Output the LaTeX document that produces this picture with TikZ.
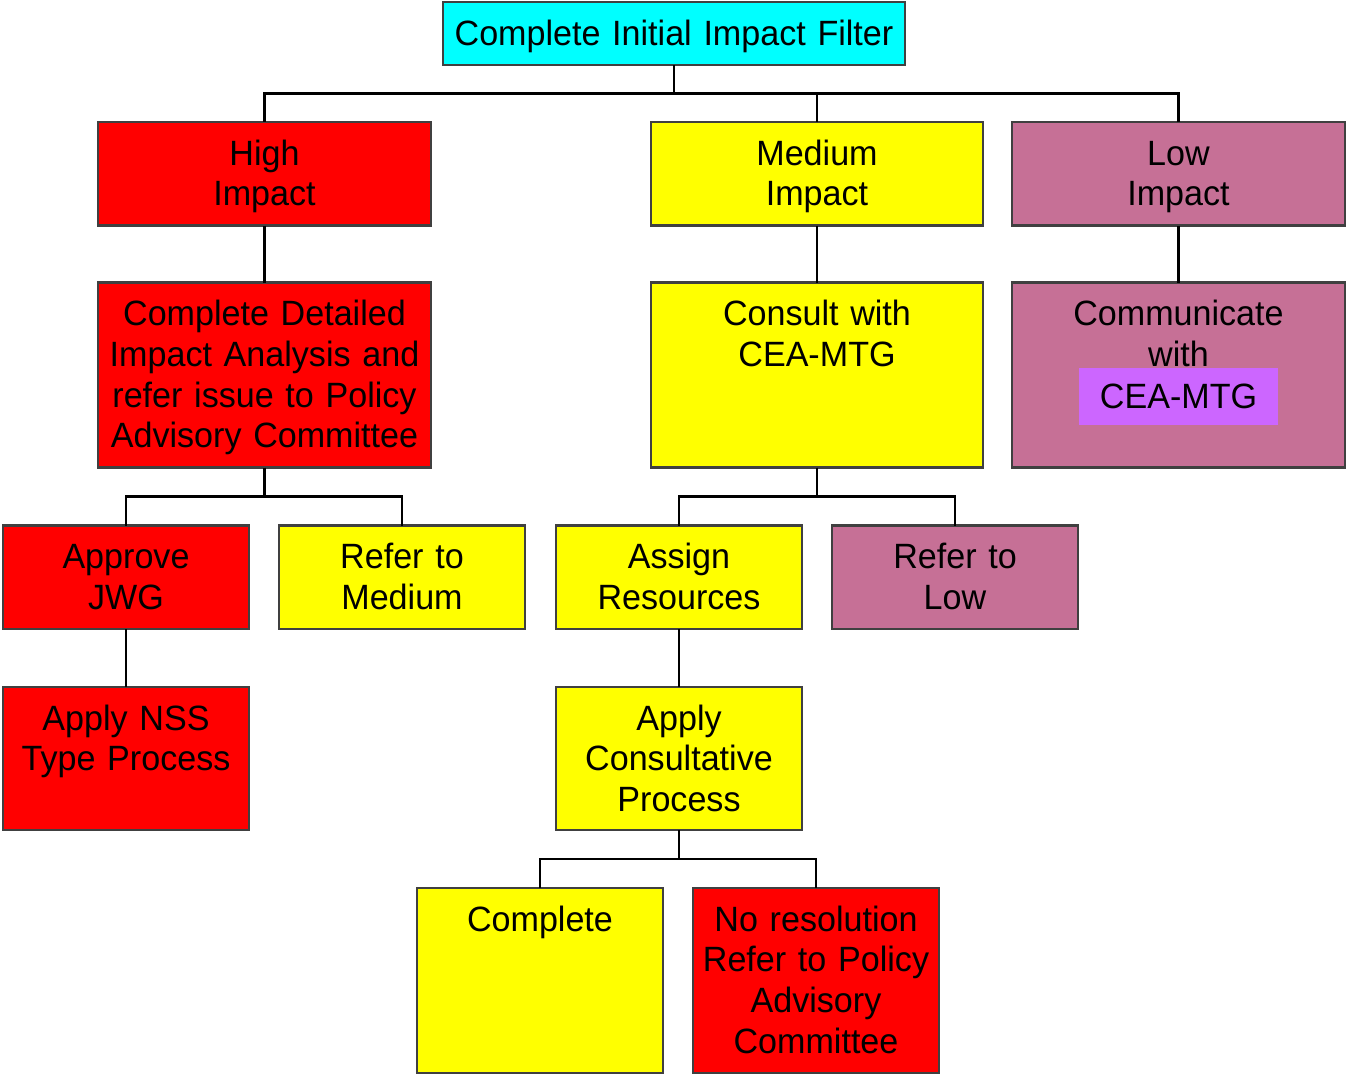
\documentclass[tikz,border=0pt]{standalone}
\usepackage{fontspec}
\setmainfont{Liberation Sans}[FakeStretch=0.97]
\usepackage{xcolor}
\usepackage{tikz}
\usetikzlibrary{positioning}
\definecolor{hired}{RGB}{255,0,0}
\definecolor{medyellow}{RGB}{255,255,0}
\definecolor{lowmauve}{RGB}{198,112,150}
\definecolor{filtercyan}{RGB}{0,255,255}
\definecolor{ceapurple}{RGB}{204,102,255}
\definecolor{edge}{RGB}{64,64,64}
\tikzset{
    box/.style={
        rectangle,
        draw=edge,
        line width=1.2pt,
        inner xsep=0pt,
        inner ysep=0pt,
        outer sep=0pt,
        align=center,
        text height=0.86cm,
        font=\fontsize{20}{23.2}\selectfont
    },
    wide/.style={text width=6.65cm},
    narrow/.style={text width=4.92cm},
    shortbox/.style={text depth=1.21cm},
    midbox/.style={text depth=2.00cm},
    tallbox/.style={text depth=2.84cm},
    redbox/.style={box, fill=hired},
    yellowbox/.style={box, fill=medyellow},
    mauvebox/.style={box, fill=lowmauve},
    ceabox/.style={
        rectangle,
        fill=ceapurple,
        minimum width=3.98cm,
        minimum height=1.14cm,
        inner sep=0pt,
        outer sep=0pt,
        font=\fontsize{20}{23.2}\selectfont
    },
    link/.style={
        draw=black,
        line width=1.2pt
    }
}
\begin{document}
\begin{tikzpicture}
\useasboundingbox (0,0) rectangle (26.92,-21.52);

% Filter (top)
\node[box, fill=filtercyan, text width=9.24cm, text depth=0.40cm, anchor=north] (filter) at (13.48,-0.04) {Complete Initial Impact Filter};

% Impact levels
\node[redbox, wide, shortbox, below=1.14cm of filter, xshift=-8.19cm] (high) {High\\Impact};
\node[yellowbox, wide, shortbox, right=4.4cm of high] (med) {Medium\\Impact};
\node[mauvebox, wide, shortbox, right=0.58cm of med] (low) {Low\\Impact};

% Actions per level
\node[redbox, wide, tallbox, below=1.14cm of high] (detail) {Complete Detailed\\Impact Analysis and\\refer issue to Policy\\Advisory Committee};
\node[yellowbox, wide, tallbox, below=1.14cm of med] (consult) {Consult with\\CEA-MTG};
\node[mauvebox, wide, tallbox, below=1.14cm of low] (comm) {Communicate\\with};
\node[ceabox, below=1.7cm of comm.north] (cea) {CEA-MTG};

% High branch
\node[redbox, narrow, shortbox, below=1.16cm of detail, xshift=-2.77cm] (approve) {Approve\\JWG};
\node[yellowbox, narrow, shortbox, right=0.6cm of approve] (refmed) {Refer to\\Medium};
\node[redbox, narrow, midbox, below=1.16cm of approve] (nss) {Apply NSS\\Type Process};

% Medium branch
\node[yellowbox, narrow, shortbox, below=1.16cm of consult, xshift=-2.76cm] (assign) {Assign\\Resources};
\node[mauvebox, narrow, shortbox, right=0.6cm of assign] (reflow) {Refer to\\Low};
\node[yellowbox, narrow, midbox, below=1.16cm of assign] (consproc) {Apply\\Consultative\\Process};
\node[yellowbox, narrow, tallbox, below=1.16cm of consproc, xshift=-2.78cm] (complete) {Complete};
\node[redbox, narrow, tallbox, right=0.6cm of complete] (nores) {No resolution\\Refer to Policy\\Advisory\\Committee};

% Connections
\draw[link] (filter.south) -- ++(0,-0.57) -| (high.north);
\draw[link] (filter.south) -- ++(0,-0.57) -| (med.north);
\draw[link] (filter.south) -- ++(0,-0.57) -| (low.north);
\draw[link] (high) -- (detail);
\draw[link] (med) -- (consult);
\draw[link] (low) -- (comm);

\draw[link] (detail.south) -- ++(0,-0.58) -| (approve.north);
\draw[link] (detail.south) -- ++(0,-0.58) -| (refmed.north);
\draw[link] (approve) -- (nss);

\draw[link] (consult.south) -- ++(0,-0.58) -| (assign.north);
\draw[link] (consult.south) -- ++(0,-0.58) -| (reflow.north);
\draw[link] (assign) -- (consproc);
\draw[link] (consproc.south) -- ++(0,-0.58) -| (complete.north);
\draw[link] (consproc.south) -- ++(0,-0.58) -| (nores.north);

\end{tikzpicture}
\end{document}
